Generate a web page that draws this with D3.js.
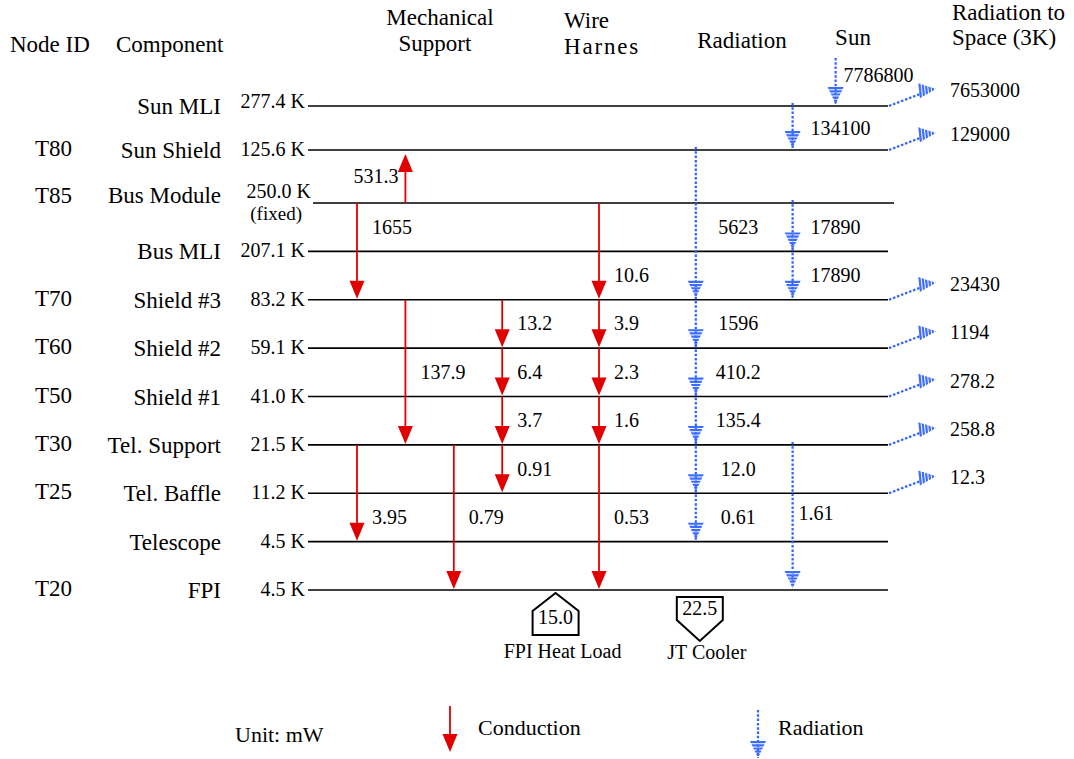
<!DOCTYPE html>
<html><head><meta charset="utf-8">
<script src="https://cdn.jsdelivr.net/npm/d3@7"></script>
<style>
body{margin:0;background:#fff}
svg text{font-family:"Liberation Serif","Times New Roman","DejaVu Serif",serif;fill:#000}
</style>
</head><body>
<svg id="chart" width="1074" height="759" font-family="Liberation Serif, Times New Roman, serif"></svg>
<script>
// ---------------- data ----------------
const components   = ["Sun MLI","Sun Shield","Bus Module","Bus MLI","Shield #3","Shield #2","Shield #1","Tel. Support","Tel. Baffle","Telescope","FPI"];
const nodeIds      = ["","T80","T85","","T70","T60","T50","T30","T25","","T20"];
const temperatures = ["277.4 K","125.6 K","250.0 K","207.1 K","83.2 K","59.1 K","41.0 K","21.5 K","11.2 K","4.5 K","4.5 K"];
const fixedNode    = "Bus Module";

// conduction paths (col = lane index, gap = which interval holds the label)
const conduction = [
  {from:"Bus Module",   to:"Sun Shield",   col:1, value:"531.3"},
  {from:"Bus Module",   to:"Shield #3",    col:0, value:"1655",  gap:0},
  {from:"Bus Module",   to:"Shield #3",    col:5, value:"10.6",  gap:1},
  {from:"Shield #3",    to:"Tel. Support", col:1, value:"137.9", gap:1},
  {from:"Shield #3",    to:"Shield #2",    col:3, value:"13.2"},
  {from:"Shield #3",    to:"Shield #2",    col:5, value:"3.9"},
  {from:"Shield #2",    to:"Shield #1",    col:3, value:"6.4"},
  {from:"Shield #2",    to:"Shield #1",    col:5, value:"2.3"},
  {from:"Shield #1",    to:"Tel. Support", col:3, value:"3.7"},
  {from:"Shield #1",    to:"Tel. Support", col:5, value:"1.6"},
  {from:"Tel. Support", to:"Tel. Baffle",  col:3, value:"0.91"},
  {from:"Tel. Support", to:"Telescope",    col:0, value:"3.95",  gap:1},
  {from:"Tel. Support", to:"FPI",          col:2, value:"0.79",  gap:1},
  {from:"Tel. Support", to:"FPI",          col:5, value:"0.53",  gap:1}
];

// radiation paths between nodes
const radiation = [
  {from:"Sun MLI",      to:"Sun Shield",   col:9, value:"134100"},
  {from:"Sun Shield",   to:"Shield #3",    col:7, value:"5623",  gap:1},
  {from:"Bus Module",   to:"Bus MLI",      col:9, value:"17890"},
  {from:"Bus MLI",      to:"Shield #3",    col:9, value:"17890"},
  {from:"Shield #3",    to:"Shield #2",    col:7, value:"1596"},
  {from:"Shield #2",    to:"Shield #1",    col:7, value:"410.2"},
  {from:"Shield #1",    to:"Tel. Support", col:7, value:"135.4"},
  {from:"Tel. Support", to:"Tel. Baffle",  col:7, value:"12.0"},
  {from:"Tel. Baffle",  to:"Telescope",    col:7, value:"0.61"},
  {from:"Tel. Support", to:"FPI",          col:9, value:"1.61",  gap:1}
];

const solarInput = {to:"Sun MLI", value:"7786800"};

const spaceNodes  = ["Sun MLI","Sun Shield","Shield #3","Shield #2","Shield #1","Tel. Support","Tel. Baffle"];
const spaceValues = ["7653000","129000","23430","1194","278.2","258.8","12.3"];

const heatLoad = {node:"FPI", value:"15.0", label:"FPI Heat Load"};
const cooler   = {node:"FPI", value:"22.5", label:"JT Cooler"};

const headers = [
  {lines:["Node ID"], anchor:"start"},
  {lines:["Component"], anchor:"start"},
  {lines:["Mechanical","Support"], anchor:"middle"},
  {lines:["Wire","Harnes"], anchor:"start"},
  {lines:["Radiation"], anchor:"middle"},
  {lines:["Sun"], anchor:"middle"},
  {lines:["Radiation to","Space (3K)"], anchor:"start"}
];
const unitLabel = "Unit: mW";
const legendItems = ["Conduction","Radiation"];

// ---------------- styles / scales ----------------
const RED = "#e00000", BLUE = "#2f62ff", BLUE_HEAD = "#3d6dff";
const svg = d3.select("#chart");

const rowScale = d3.scaleLinear().domain([0,1,2,10]).range([106,150,203,590]);
const y = name => rowScale(components.indexOf(name));
const xCol = d3.scaleLinear().domain([0,10]).range([357,841]);
const LINE_X0 = 308, LINE_X1 = 888;

// ---------------- helpers ----------------
function solidHead(g, x, tipY, dir, color){ // dir: 1 down, -1 up
  const h = 18, hw = 7.5;
  g.append("path")
    .attr("d", `M${x},${tipY}L${x-hw},${tipY-dir*h}L${x+hw},${tipY-dir*h}Z`)
    .attr("fill", color);
}
function stripedHead(g, tipX, tipY, angle, h, hw, color){
  const hg = g.append("g").attr("transform", `translate(${tipX},${tipY}) rotate(${angle})`);
  for (let d = 0; d < h - 0.5; d += 3.2){
    const d2 = Math.min(d + 2.2, h);
    const w1 = hw * (1 - d / h), w2 = hw * (1 - d2 / h);
    const x1 = -h + d, x2 = -h + d2;
    hg.append("path")
      .attr("d", `M${x1},${-w1}L${x1},${w1}L${x2},${w2}L${x2},${-w2}Z`)
      .attr("fill", color);
  }
}
function conductionArrow(g, x, y0, y1){
  const dir = y1 > y0 ? 1 : -1;
  g.append("line").attr("x1", x).attr("x2", x).attr("y1", y0).attr("y2", y1 - dir * 14)
    .attr("stroke", RED).attr("stroke-width", 1.8);
  solidHead(g, x, y1, dir, RED);
}
function radiationArrow(g, x, y0, y1){
  g.append("line").attr("x1", x).attr("x2", x).attr("y1", y0).attr("y2", y1)
    .attr("stroke", BLUE).attr("stroke-width", 2.2).attr("stroke-dasharray", "2.5,1.8");
  stripedHead(g, x, y1, 90, 17, 8, BLUE_HEAD);
}
function gapMid(a){
  const i = components.indexOf(a.from), j = components.indexOf(a.to);
  const k = a.gap || 0;
  const lo = Math.min(i, j) + k;
  return (rowScale(lo) + rowScale(lo + 1)) / 2;
}

// ---------------- headers ----------------
const hdrPos = [[10,52],[116,52],[440,25],[564,28],[742,48],[853,45],[952,20]];
const hdr = svg.append("g").attr("font-size", 23);
headers.forEach((h, i) => {
  h.lines.forEach((t, k) => {
    const tx = hdr.append("text")
      .attr("x", hdrPos[i][0] - (i === 2 && k === 1 ? 5 : 0))
      .attr("y", hdrPos[i][1] + k * 26 - (i === 6 && k === 1 ? 1 : 0))
      .attr("text-anchor", h.anchor)
      .text(t);
    if (t === "Harnes") tx.attr("letter-spacing", 1.8);
  });
});

// ---------------- node rows ----------------
const rows = svg.append("g");
components.forEach((c, i) => {
  const yy = rowScale(i);
  const fixed = c === fixedNode;
  rows.append("line").attr("x1", fixed ? LINE_X0 + 5 : LINE_X0).attr("x2", fixed ? LINE_X1 + 6 : LINE_X1)
    .attr("y1", yy).attr("y2", yy).attr("stroke", "#000").attr("stroke-width", 1.6);
  rows.append("text").attr("x", 35).attr("y", yy + (fixed ? 0 : 6)).attr("font-size", 23).text(nodeIds[i]);
  rows.append("text").attr("x", 221).attr("y", yy + (fixed ? 0 : 8)).attr("font-size", 23)
    .attr("text-anchor", "end").text(c);
  rows.append("text").attr("x", fixed ? 311 : 305).attr("y", yy + (fixed ? -5 : (i === 0 ? 2 : 6))).attr("font-size", 20)
    .attr("text-anchor", "end").text(temperatures[i]);
  if (fixed) rows.append("text").attr("x", 302).attr("y", yy + 17).attr("font-size", 19)
    .attr("text-anchor", "end").text("(fixed)");
});

// ---------------- conduction ----------------
const cg = svg.append("g");
conduction.forEach(a => {
  const x = xCol(a.col), y0 = y(a.from), y1 = y(a.to);
  const up = y1 < y0;
  conductionArrow(cg, x, y0, up ? y1 + 4 : y1 - 1);
  const ly = gapMid(a) + 6.5;
  cg.append("text").attr("font-size", 20)
    .attr("x", up ? x - 7 : x + 15).attr("y", ly)
    .attr("text-anchor", up ? "end" : "start").text(a.value);
});

// ---------------- radiation ----------------
const rg = svg.append("g");
radiation.forEach(a => {
  const x = xCol(a.col), y0 = y(a.from), y1 = y(a.to);
  radiationArrow(rg, x, y0 - 3, y1 - 2);
  const ly = gapMid(a) + 6.5;
  if (a.col === 7) {
    rg.append("text").attr("font-size", 20).attr("x", (xCol(7) + xCol(9)) / 2 - 6).attr("y", ly)
      .attr("text-anchor", "middle").text(a.value);
  } else {
    rg.append("text").attr("font-size", 20).attr("x", x + (a.gap ? 6 : 18)).attr("y", ly - (a.gap ? 4 : 0))
      .text(a.value);
  }
});
// solar input
{
  const x = xCol(9) + 43;
  radiationArrow(rg, x, 58, y(solarInput.to) - 2);
  rg.append("text").attr("font-size", 20).attr("x", x + 8).attr("y", 82).text(solarInput.value);
}
// radiation to space
spaceNodes.forEach((n, i) => {
  const yy = y(n), x0 = LINE_X1;
  rg.append("line").attr("x1", x0 + 1).attr("y1", yy).attr("x2", x0 + 32).attr("y2", yy - 12)
    .attr("stroke", BLUE).attr("stroke-width", 2.2).attr("stroke-dasharray", "2.5,1.8");
  stripedHead(rg, x0 + 48, yy - 17, -6, 17, 7.5, BLUE_HEAD);
  rg.append("text").attr("font-size", 20).attr("x", 950).attr("y", yy - 9).text(spaceValues[i]);
});

// ---------------- heat load / cooler ----------------
const bg = svg.append("g").attr("fill", "none").attr("stroke", "#000").attr("stroke-width", 2);
{
  const yF = y(heatLoad.node), cx = xCol(4) + 5;
  bg.append("path").attr("d", `M${cx},${yF+3}L${cx+23},${yF+21}L${cx+23},${yF+45}L${cx-23},${yF+45}L${cx-23},${yF+21}Z`);
  svg.append("text").attr("font-size", 20).attr("x", cx).attr("y", yF + 34).attr("text-anchor", "middle").text(heatLoad.value);
  svg.append("text").attr("font-size", 20).attr("x", cx + 7).attr("y", yF + 68).attr("text-anchor", "middle").text(heatLoad.label);
}
{
  const yF = y(cooler.node), cx = xCol(7) + 4;
  bg.append("path").attr("d", `M${cx-23},${yF+7}L${cx+23},${yF+7}L${cx+23},${yF+30}L${cx},${yF+51}L${cx-23},${yF+30}Z`);
  svg.append("text").attr("font-size", 20).attr("x", cx).attr("y", yF + 25).attr("text-anchor", "middle").text(cooler.value);
  svg.append("text").attr("font-size", 20).attr("x", cx + 7).attr("y", yF + 69).attr("text-anchor", "middle").text(cooler.label);
}

// ---------------- legend ----------------
const lg = svg.append("g");
lg.append("text").attr("font-size", 22).attr("x", 235).attr("y", 742).text(unitLabel);
conductionArrow(lg, 450, 706, 752);
lg.append("text").attr("font-size", 22).attr("x", 478).attr("y", 735).text(legendItems[0]);
radiationArrow(lg, 758, 710, 758);
lg.append("text").attr("font-size", 22).attr("x", 778).attr("y", 735).text(legendItems[1]);
</script>
</body></html>
